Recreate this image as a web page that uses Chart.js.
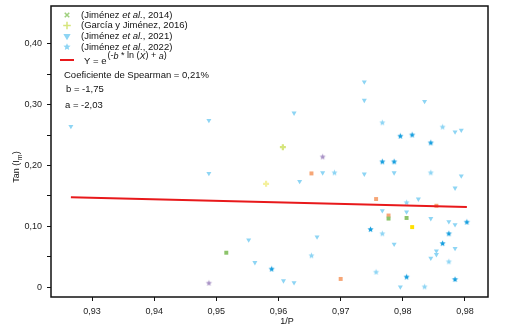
<!DOCTYPE html>
<html>
<head>
<meta charset="utf-8">
<title>Tan (Im) vs 1/P</title>
<script src="https://cdn.jsdelivr.net/npm/chart.js"></script>
<style>
    html, body { margin: 0; padding: 0; background: #fff; }
    #chart { display: block; }
</style>
</head>
<body>
<canvas id="chart" width="510" height="330"></canvas>
<script>
'use strict';

// values: x = 1/P, y = Tan (Im)
var j2014Green = [[0.9516, 0.057], [0.9806, 0.114], [0.9777, 0.113]];
var j2014Orange = [[0.9653, 0.187], [0.9757, 0.145], [0.9777, 0.118], [0.9854, 0.134], [0.9700, 0.014]];
var j2014Yellow = [[0.9815, 0.099]];
var g2016 = [[0.9607, 0.230]];
var g2016Pale = [[0.9580, 0.170]];
var j2021 = [
    [0.9266, 0.264], [0.9488, 0.274], [0.9488, 0.187], [0.9552, 0.078], [0.9562, 0.041],
    [0.9608, 0.011], [0.9625, 0.008], [0.9625, 0.286], [0.9634, 0.174], [0.9662, 0.083],
    [0.9671, 0.188], [0.9738, 0.337], [0.9738, 0.307], [0.9738, 0.186], [0.9767, 0.126],
    [0.9786, 0.188], [0.9786, 0.071], [0.9796, 0.001], [0.9806, 0.124], [0.9825, 0.145],
    [0.9835, 0.305], [0.9845, 0.113], [0.9845, 0.048], [0.9854, 0.060], [0.9854, 0.054],
    [0.9874, 0.108], [0.9884, 0.255], [0.9884, 0.163], [0.9884, 0.103], [0.9884, 0.064],
    [0.9894, 0.258], [0.9894, 0.183]
];
var j2022Light = [
    [0.9653, 0.052], [0.9690, 0.188], [0.9757, 0.025], [0.9767, 0.270], [0.9767, 0.088],
    [0.9806, 0.139], [0.9835, 0.001], [0.9845, 0.188], [0.9864, 0.263], [0.9874, 0.042]
];
var j2022Dark = [
    [0.9589, 0.030], [0.9748, 0.095], [0.9767, 0.206], [0.9786, 0.206], [0.9796, 0.248],
    [0.9806, 0.017], [0.9815, 0.250], [0.9845, 0.237], [0.9864, 0.072], [0.9874, 0.088],
    [0.9884, 0.013], [0.9903, 0.107]
];
var j2022Purple = [[0.9488, 0.007], [0.9671, 0.214]];
var fitLine = [[0.9266, 0.148], [0.9903, 0.132]];

var xTickValues = [0.93, 0.94, 0.95, 0.96, 0.97, 0.98, 0.99];
var xTickLabels = ['0,93', '0,94', '0,95', '0,96', '0,97', '0,98', '0,98'];
var yTickValues = [0, 0.05, 0.10, 0.15, 0.20, 0.25, 0.30, 0.35, 0.40];
var yTickLabels = ['0', '', '0,10', '', '0,20', '', '0,30', '', '0,40'];

var legendRows = [
    [['(Jiménez ', false], ['et al.', true], [', 2014)', false]],
    [['(García y Jiménez, 2016)', false]],
    [['(Jiménez ', false], ['et al.', true], [', 2021)', false]],
    [['(Jiménez ', false], ['et al.', true], [', 2022)', false]]
];
var statLines = ['Coeficiente de Spearman = 0,21%', 'b = -1,75', 'a = -2,03'];

var FONT = '"Liberation Sans", Arial, sans-serif';
var LIGHT_BLUE = '#8ed5f4';

function toPoints(arr) {
    return arr.map(function (p) { return {x: p[0], y: p[1]}; });
}

// small filled five-point star used as a point image
function makeStar(color, r) {
    var c = document.createElement('canvas');
    var size = Math.ceil(r * 2 + 2);
    c.width = size;
    c.height = size;
    var g = c.getContext('2d');
    g.fillStyle = color;
    g.beginPath();
    for (var i = 0; i < 10; i++) {
        var rad = i % 2 === 0 ? r : r * 0.45;
        var ang = -Math.PI / 2 + i * Math.PI / 5;
        var px = size / 2 + rad * Math.cos(ang);
        var py = size / 2 + rad * Math.sin(ang);
        if (i === 0) {
            g.moveTo(px, py);
        } else {
            g.lineTo(px, py);
        }
    }
    g.closePath();
    g.fill();
    return c;
}

function scatterSet(label, arr, style, color, radius, width, rotation) {
    return {
        label: label,
        data: toPoints(arr),
        pointStyle: style,
        pointRadius: radius,
        pointBorderWidth: width,
        pointRotation: rotation || 0,
        backgroundColor: color,
        borderColor: color,
        pointHoverRadius: radius
    };
}

function drawRuns(ctx, x, y, runs, size) {
    runs.forEach(function (r) {
        ctx.font = (r[1] ? 'italic ' : '') + size + 'px ' + FONT;
        ctx.fillText(r[0], x, y);
        x += ctx.measureText(r[0]).width;
    });
    return x;
}

var legendStar = makeStar(LIGHT_BLUE, 3.8);

var annotations = {
    id: 'annotations',
    afterDraw: function (chart) {
        var ctx = chart.ctx;
        var a = chart.chartArea;
        var helpers = Chart.helpers;
        ctx.save();

        // frame
        ctx.strokeStyle = '#111';
        ctx.lineWidth = 1.5;
        ctx.strokeRect(a.left, a.top, a.right - a.left, a.bottom - a.top);

        // legend markers
        var mx = 67;
        var rowsY = [15, 25.5, 36, 47];
        var markers = [
            {pointStyle: 'crossRot', radius: 3.2, borderWidth: 2.8, rotation: 0, color: '#9fd07e'},
            {pointStyle: 'cross', radius: 3.8, borderWidth: 2.5, rotation: 0, color: '#d6e57c'},
            {pointStyle: 'triangle', radius: 4.2, borderWidth: 0, rotation: 180, color: LIGHT_BLUE}
        ];
        markers.forEach(function (m, i) {
            ctx.fillStyle = m.color;
            ctx.strokeStyle = m.color;
            helpers.drawPoint(ctx, m, mx, rowsY[i]);
        });
        ctx.drawImage(legendStar, mx - legendStar.width / 2, rowsY[3] - legendStar.height / 2);
        ctx.strokeStyle = '#e8191b';
        ctx.lineWidth = 2;
        ctx.beginPath();
        ctx.moveTo(60, 60);
        ctx.lineTo(74, 60);
        ctx.stroke();

        // legend text
        ctx.fillStyle = '#111';
        ctx.textBaseline = 'middle';
        ctx.textAlign = 'left';
        legendRows.forEach(function (row, i) {
            drawRuns(ctx, 81, rowsY[i], row, 9.5);
        });
        var ex = drawRuns(ctx, 84, 61, [['Y = e', false]], 9.5);
        drawRuns(ctx, ex + 1, 56, [['(-', false], ['b', true], [' * ln (', false], ['X', true], [') + ', false], ['a', true], [')', false]], 9);

        ctx.font = '9.5px ' + FONT;
        ctx.fillText(statLines[0], 64, 75);
        ctx.fillText(statLines[1], 66, 89.5);
        ctx.fillText(statLines[2], 65, 105.5);

        // axis titles
        ctx.font = '9px ' + FONT;
        ctx.textAlign = 'center';
        ctx.fillText('1/P', 287, 322);

        ctx.translate(17, 167);
        ctx.rotate(-Math.PI / 2);
        ctx.textAlign = 'left';
        var w1 = ctx.measureText('Tan (I').width;
        ctx.font = '7px ' + FONT;
        var w2 = ctx.measureText('m').width;
        ctx.font = '9px ' + FONT;
        var w3 = ctx.measureText(')').width;
        var sx = -(w1 + w2 + w3) / 2;
        ctx.fillText('Tan (I', sx, 0);
        ctx.font = '7px ' + FONT;
        ctx.fillText('m', sx + w1, 3);
        ctx.font = '9px ' + FONT;
        ctx.fillText(')', sx + w1 + w2, 0);

        ctx.restore();
    }
};

var ctx = document.getElementById('chart').getContext('2d');
var chart = new Chart(ctx, {
    type: 'scatter',
    data: {
        datasets: [
            {
                label: 'Y = e^(-b * ln (X) + a)',
                type: 'line',
                data: toPoints(fitLine),
                borderColor: '#e8191b',
                borderWidth: 2,
                pointRadius: 0,
                fill: false,
                order: 0
            },
            scatterSet('(Jiménez et al., 2021)', j2021, 'triangle', LIGHT_BLUE, 2.9, 0, 180),
            scatterSet('(Jiménez et al., 2022)', j2022Light, makeStar(LIGHT_BLUE, 3.2), LIGHT_BLUE, 3, 0),
            scatterSet('(Jiménez et al., 2022)', j2022Dark, makeStar('#179fdf', 3.2), '#179fdf', 3, 0),
            scatterSet('(Jiménez et al., 2022)', j2022Purple, makeStar('#a993c6', 3.2), '#a993c6', 3, 0),
            scatterSet('(Jiménez et al., 2014)', j2014Green, 'rect', '#8cc36a', 2.8, 0),
            scatterSet('(Jiménez et al., 2014)', j2014Orange, 'rect', '#f6a676', 2.8, 0),
            scatterSet('(Jiménez et al., 2014)', j2014Yellow, 'rect', '#ffe000', 2.8, 0),
            scatterSet('(García y Jiménez, 2016)', g2016, 'cross', '#d6e57c', 3, 2.2),
            scatterSet('(García y Jiménez, 2016)', g2016Pale, 'cross', '#f4f09c', 3, 2.2)
        ]
    },
    options: {
        responsive: false,
        animation: false,
        layout: {padding: {top: 6, right: 22, left: 0, bottom: 0}},
        plugins: {
            legend: {display: false},
            tooltip: {enabled: false}
        },
        scales: {
            x: {
                type: 'linear',
                min: 0.9234,
                max: 0.9937,
                afterFit: function (axis) {
                    axis.height = 33;
                    axis.paddingLeft = 0;
                    axis.paddingRight = 0;
                },
                afterBuildTicks: function (axis) {
                    axis.ticks = xTickValues.map(function (v) { return {value: v}; });
                },
                ticks: {
                    autoSkip: false,
                    maxRotation: 0,
                    padding: 5,
                    color: '#222',
                    font: {family: FONT, size: 9},
                    callback: function (value, index) { return xTickLabels[index]; }
                },
                grid: {display: true, drawOnChartArea: false, tickLength: 4, color: '#111'},
                border: {display: false}
            },
            y: {
                type: 'linear',
                min: -0.0156,
                max: 0.4615,
                afterFit: function (axis) {
                    axis.width = 51;
                    axis.paddingTop = 0;
                    axis.paddingBottom = 0;
                },
                afterBuildTicks: function (axis) {
                    axis.ticks = yTickValues.map(function (v) { return {value: v}; });
                },
                ticks: {
                    autoSkip: false,
                    padding: 5,
                    color: '#222',
                    font: {family: FONT, size: 9},
                    callback: function (value, index) { return yTickLabels[index]; }
                },
                grid: {display: true, drawOnChartArea: false, tickLength: 4, color: '#111'},
                border: {display: false}
            }
        }
    },
    plugins: [annotations]
});
</script>
</body>
</html>
